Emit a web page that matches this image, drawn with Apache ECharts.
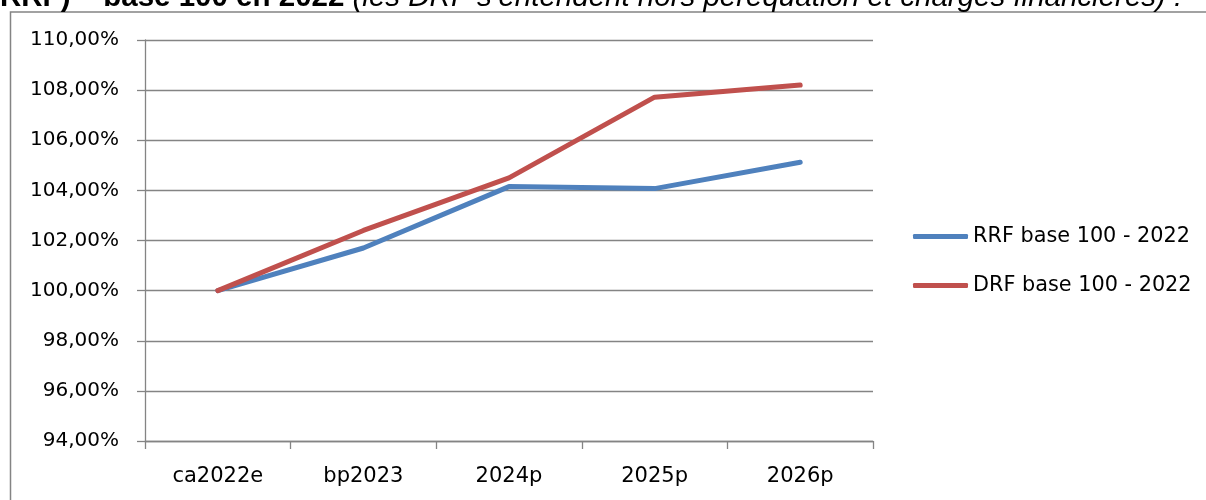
<!DOCTYPE html>
<html>
<head>
<meta charset="utf-8">
<script src="https://cdn.jsdelivr.net/npm/echarts@6/dist/echarts.min.js"></script>
<style>
  html, body { margin: 0; padding: 0; background: #fff; }
  #chart { width: 1206px; height: 500px; }
</style>
</head>
<body>
<div id="chart"></div>
<script>
// données
const categories = ['ca2022e', 'bp2023', '2024p', '2025p', '2026p'];
const rrfValues = [100, 101.7, 104.15, 104.07, 105.12];
const drfValues = [100, 102.4, 104.5, 107.72, 108.2];
const seriesNames = ['RRF base 100 - 2022', 'DRF base 100 - 2022'];
const titleBold = 'RRF) – base 100 en 2022';
const titleItalic = '(les DRF s\u2019entendent hors péréquation et charges financières) :';

const chart = echarts.init(document.getElementById('chart'));

const grey = '#848484';
const font = 'DejaVu Sans';

const option = {
    animation: false,
    backgroundColor: '#fff',
    graphic: [
        {
            type: 'rect',
            shape: { x: 10.5, y: 12, width: 1400, height: 700 },
            style: { fill: 'none', stroke: grey, lineWidth: 1.5 },
            silent: true,
        },
        {
            type: 'text',
            x: 0,
            y: -2.6,
            style: {
                text: '{b|' + titleBold + '} {i|' + titleItalic + '}',
                verticalAlign: 'middle',
                fontFamily: 'Liberation Sans',
                fontSize: 29.5,
                fill: '#000',
                rich: {
                    b: { fontWeight: 'bold', fontFamily: 'Liberation Sans', fontSize: 29.5 },
                    i: { fontStyle: 'italic', fontFamily: 'Liberation Sans', fontSize: 29.5 },
                },
            },
            silent: true,
        },
    ],
    legend: {
        orient: 'vertical',
        left: 908,
        top: 221,
        itemWidth: 55,
        itemHeight: 5,
        itemGap: 28,
        icon: 'roundRect',
        textStyle: { fontFamily: font, fontSize: 20.8, color: '#000', lineHeight: 20 },
        data: seriesNames,
    },
    grid: {
        left: 145,
        right: 333,
        top: 40,
        bottom: 59,
        containLabel: false,
    },
    xAxis: {
        type: 'category',
        data: categories,
        boundaryGap: true,
        axisLine: { lineStyle: { color: grey, width: 1.3 } },
        axisTick: { show: true, length: 8, lineStyle: { color: grey, width: 1.3 } },
        axisLabel: { color: '#000', fontFamily: font, fontSize: 21, margin: 25 },
    },
    yAxis: {
        type: 'value',
        min: 94,
        max: 110,
        interval: 2,
        axisLine: { show: true, lineStyle: { color: grey, width: 1.3 } },
        axisTick: { show: true, length: 8, lineStyle: { color: grey, width: 1.3 } },
        splitLine: { show: true, lineStyle: { color: grey, width: 1.3 } },
        axisLabel: {
            color: '#000',
            fontFamily: font,
            fontSize: 20,
            margin: 26,
            formatter: (v) => v.toFixed(2).replace('.', ',') + '%',
        },
    },
    series: [
        {
            name: seriesNames[0],
            type: 'line',
            data: rrfValues,
            showSymbol: false,
            symbol: 'none',
            color: '#4F81BD',
            lineStyle: { width: 5, color: '#4F81BD', cap: 'round', join: 'round' },
        },
        {
            name: seriesNames[1],
            type: 'line',
            data: drfValues,
            showSymbol: false,
            symbol: 'none',
            color: '#C0504D',
            lineStyle: { width: 5, color: '#C0504D', cap: 'round', join: 'round' },
        },
    ],
};

chart.setOption(option);
</script>
</body>
</html>
